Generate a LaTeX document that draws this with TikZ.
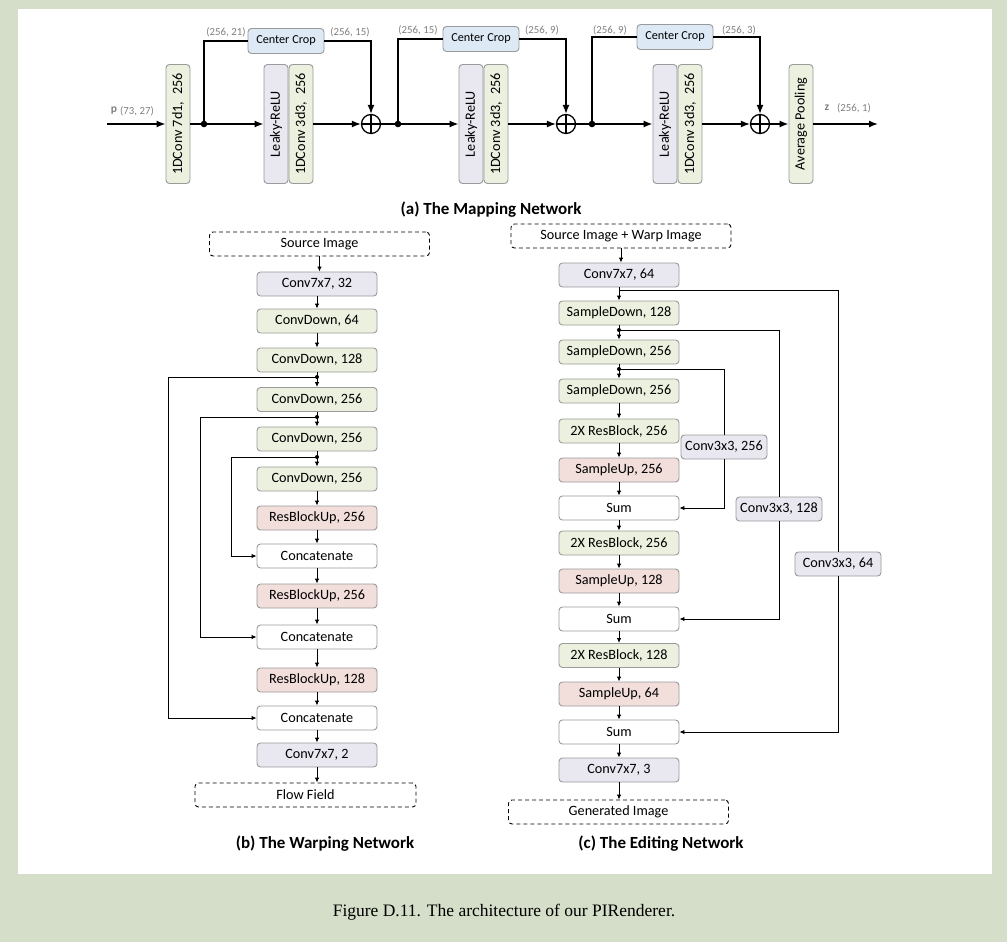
\documentclass[tikz,border=0pt]{standalone}
\usepackage{fontspec}
\setmainfont{Carlito}
\newfontfamily\capfont{Liberation Serif}
\usepackage{xcolor}
\usepackage{tikz}
\usetikzlibrary{arrows.meta,calc}

\definecolor{pagebg}{HTML}{D5DEC8}
\definecolor{greenfill}{HTML}{EBF0DF}
\definecolor{lavfill}{HTML}{E9E7F0}
\definecolor{pinkfill}{HTML}{F2DEDB}
\definecolor{bluefill}{HTML}{DDE9F5}
\definecolor{edgegray}{HTML}{9A9A9A}
\definecolor{dimgray}{HTML}{808080}

\tikzset{
    blk/.style={draw=edgegray, line width=0.9pt, rounded corners=3.5pt, minimum width=120pt, minimum height=24pt, inner sep=0pt, font=\fontsize{14.2}{16}\selectfont},
    dashblk/.style={blk, draw=black, dash pattern=on 4pt off 3pt, minimum width=220pt},
    skipblk/.style={blk, fill=lavfill, minimum width=86pt},
    vblk/.style={blk, rotate=90, minimum width=119pt, minimum height=24pt},
    cropblk/.style={blk, fill=bluefill, minimum width=76pt, minimum height=25pt, font=\fontsize{12.2}{14}\selectfont},
    oplus/.style={circle, draw, line width=1.3pt, minimum size=19pt, inner sep=0pt,
        path picture={\draw[line width=1.3pt] (path picture bounding box.north) -- (path picture bounding box.south)
            (path picture bounding box.west) -- (path picture bounding box.east);}},
    dim/.style={text=dimgray, font=\fontsize{10.8}{12}\selectfont, inner sep=0pt},
    mapline/.style={line width=1.4pt},
    maparr/.style={mapline, -{Latex[length=9pt,width=7pt]}},
    flowline/.style={line width=0.9pt},
    flow/.style={flowline, -{Latex[length=5pt,width=4.5pt]}},
    subtitle/.style={font=\fontsize{17}{19}\selectfont\bfseries}
}

\begin{document}
\begin{tikzpicture}[x=1pt, y=-1pt]
        \fill[pagebg] (0,0) rectangle (1007,942);
        \useasboundingbox (0,0) rectangle (1007,942);
        \fill[white] (18,9) rectangle (992,874);

        \coordinate (pin) at (107,124);
        \coordinate (zout) at (878,124);
        \node[vblk, fill=greenfill] (mc1) at (178,124) {1DConv 7d1,\enspace 256};
        \coordinate (d1) at (204,124);
        \node[cropblk] (crop1) at (286,41) {Center Crop};
        \node[vblk, fill=lavfill] (lr1) at (276,124) {Leaky-ReLU};
        \node[vblk, fill=greenfill] (mc2) at (301,124) {1DConv 3d3,\enspace 256};
        \node[oplus] (add1) at (371,124) {};
        \coordinate (d2) at (398,124);
        \node[cropblk] (crop2) at (481,39) {Center Crop};
        \node[vblk, fill=lavfill] (lr2) at (471,124) {Leaky-ReLU};
        \node[vblk, fill=greenfill] (mc3) at (496,124) {1DConv 3d3,\enspace 256};
        \node[oplus] (add2) at (566,124) {};
        \coordinate (d3) at (592,124);
        \node[cropblk] (crop3) at (675,37) {Center Crop};
        \node[vblk, fill=lavfill] (lr3) at (665,124) {Leaky-ReLU};
        \node[vblk, fill=greenfill] (mc4) at (690,124) {1DConv 3d3,\enspace 256};
        \node[oplus] (add3) at (760,124) {};
        \node[vblk, fill=greenfill] (pool) at (801,124) {Average Pooling};

        \draw[maparr] (pin) -- (mc1);
        \draw[mapline] (mc1) -- (d1);
        \draw[maparr] (d1) -- (lr1);
        \draw[mapline] (d1) |- (crop1);
        \draw[maparr] (crop1) -| (add1);
        \draw[maparr] (mc2) -- (add1);
        \draw[mapline] (add1) -- (d2);
        \draw[maparr] (d2) -- (lr2);
        \draw[mapline] (d2) |- (crop2);
        \draw[maparr] (crop2) -| (add2);
        \draw[maparr] (mc3) -- (add2);
        \draw[mapline] (add2) -- (d3);
        \draw[maparr] (d3) -- (lr3);
        \draw[mapline] (d3) |- (crop3);
        \draw[maparr] (crop3) -| (add3);
        \draw[maparr] (mc4) -- (add3);
        \draw[maparr] (add3) -- (pool);
        \draw[maparr] (pool) -- (zout);
        \foreach \d in {d1,d2,d3}
            \fill (\d) circle (3.3pt);

        \node[text=dimgray, font=\fontsize{11.5}{12}\selectfont\bfseries, inner sep=0pt] at (114,111) {p};
        \node[dim] at (137,111) {(73, 27)};
        \node[text=dimgray, font=\fontsize{11.5}{12}\selectfont\bfseries, inner sep=0pt] at (827,108) {z};
        \node[dim] at (854,108) {(256, 1)};
        \node[dim] at (226,32) {(256, 21)};
        \node[dim] at (350,32) {(256, 15)};
        \node[dim] at (418,30) {(256, 15)};
        \node[dim] at (542,30) {(256, 9)};
        \node[dim] at (610,30) {(256, 9)};
        \node[dim] at (739,30) {(256, 3)};
        \node[subtitle] (tmap) at (491,210) {(a) The Mapping Network};

        \node[dashblk] (wsrc) at (319.5,244) {Source Image};
        \foreach \nm/\yy/\fc/\txt in {w1/284/lavfill/{Conv7x7, 32}, w2/321/greenfill/{ConvDown, 64},
                w3/360/greenfill/{ConvDown, 128}, w4/399.5/greenfill/{ConvDown, 256},
                w5/439/greenfill/{ConvDown, 256}, w6/479/greenfill/{ConvDown, 256},
                w7/518/pinkfill/{ResBlockUp, 256}, w8/556/white/{Concatenate},
                w9/596/pinkfill/{ResBlockUp, 256}, w10/637/white/{Concatenate},
                w11/680/pinkfill/{ResBlockUp, 128}, w12/718/white/{Concatenate},
                w13/755/lavfill/{Conv7x7, 2}}
            \node[blk, fill=\fc] (\nm) at (317,\yy) {\txt};
        \node[dashblk, minimum width=221pt] (wout) at (305.5,795) {Flow Field};
        \foreach \a/\b in {w1/wsrc, w2/w1, w3/w2, w4/w3, w5/w4, w6/w5, w7/w6, w8/w7,
                w9/w8, w10/w9, w11/w10, w12/w11, w13/w12, wout/w13}
            \draw[flow] (\b.south -| \b) -- (\b |- \a.north);
        \coordinate (s1) at (317,377);
        \coordinate (s2) at (317,417);
        \coordinate (s3) at (317,457);
        \draw[flow] (s1) -- ++(-149,0) |- (w12);
        \draw[flow] (s2) -- ++(-117,0) |- (w10);
        \draw[flow] (s3) -- ++(-86,0) |- (w8);
        \foreach \s in {s1,s2,s3}
            \fill (\s) circle (2pt);
        \node[subtitle] (twarp) at (325,844) {(b) The Warping Network};

        \node[dashblk] (esrc) at (621,236) {Source Image + Warp Image};
        \foreach \nm/\yy/\fc/\txt in {e1/275/lavfill/{Conv7x7, 64}, e2/313/greenfill/{SampleDown, 128},
                e3/352/greenfill/{SampleDown, 256}, e4/391/greenfill/{SampleDown, 256},
                e5/431/greenfill/{2X ResBlock, 256}, e6/470/pinkfill/{SampleUp, 256},
                e7/508/white/{Sum}, e8/543/greenfill/{2X ResBlock, 256},
                e9/581/pinkfill/{SampleUp, 128}, e10/619/white/{Sum},
                e11/655.5/greenfill/{2X ResBlock, 128}, e12/694/pinkfill/{SampleUp, 64},
                e13/732/white/{Sum}, e14/770/lavfill/{Conv7x7, 3}}
            \node[blk, fill=\fc] (\nm) at (619,\yy) {\txt};
        \node[dashblk] (egen) at (618.5,812) {Generated Image};
        \foreach \a/\b in {e1/esrc, e2/e1, e3/e2, e4/e3, e5/e4, e6/e5, e7/e6, e8/e7,
                e9/e8, e10/e9, e11/e10, e12/e11, e13/e12, e14/e13, egen/e14}
            \draw[flow] (\b.south -| \b) -- (\b |- \a.north);
        \node[skipblk] (k256) at (724,447) {Conv3x3, 256};
        \node[skipblk] (k128) at (779,509) {Conv3x3, 128};
        \node[skipblk] (k64) at (838,564) {Conv3x3, 64};
        \coordinate (t1) at (619,290);
        \coordinate (t2) at (619,330);
        \coordinate (t3) at (619,369);
        \draw[flowline] (t1) -| (k64);
        \draw[flow] (k64) |- (e13);
        \draw[flowline] (t2) -| (k128);
        \draw[flow] (k128) |- (e10);
        \draw[flowline] (t3) -| (k256);
        \draw[flow] (k256) |- (e7);
        \foreach \t in {t2,t3}
            \fill (\t) circle (2pt);
        \node[subtitle] (tedit) at (661,844) {(c) The Editing Network};

        \node[font=\capfont\fontsize{17.5}{19}\selectfont] (cap) at (504,912) {Figure D.11. The architecture of our PIRenderer.};
    \end{tikzpicture}
\end{document}
